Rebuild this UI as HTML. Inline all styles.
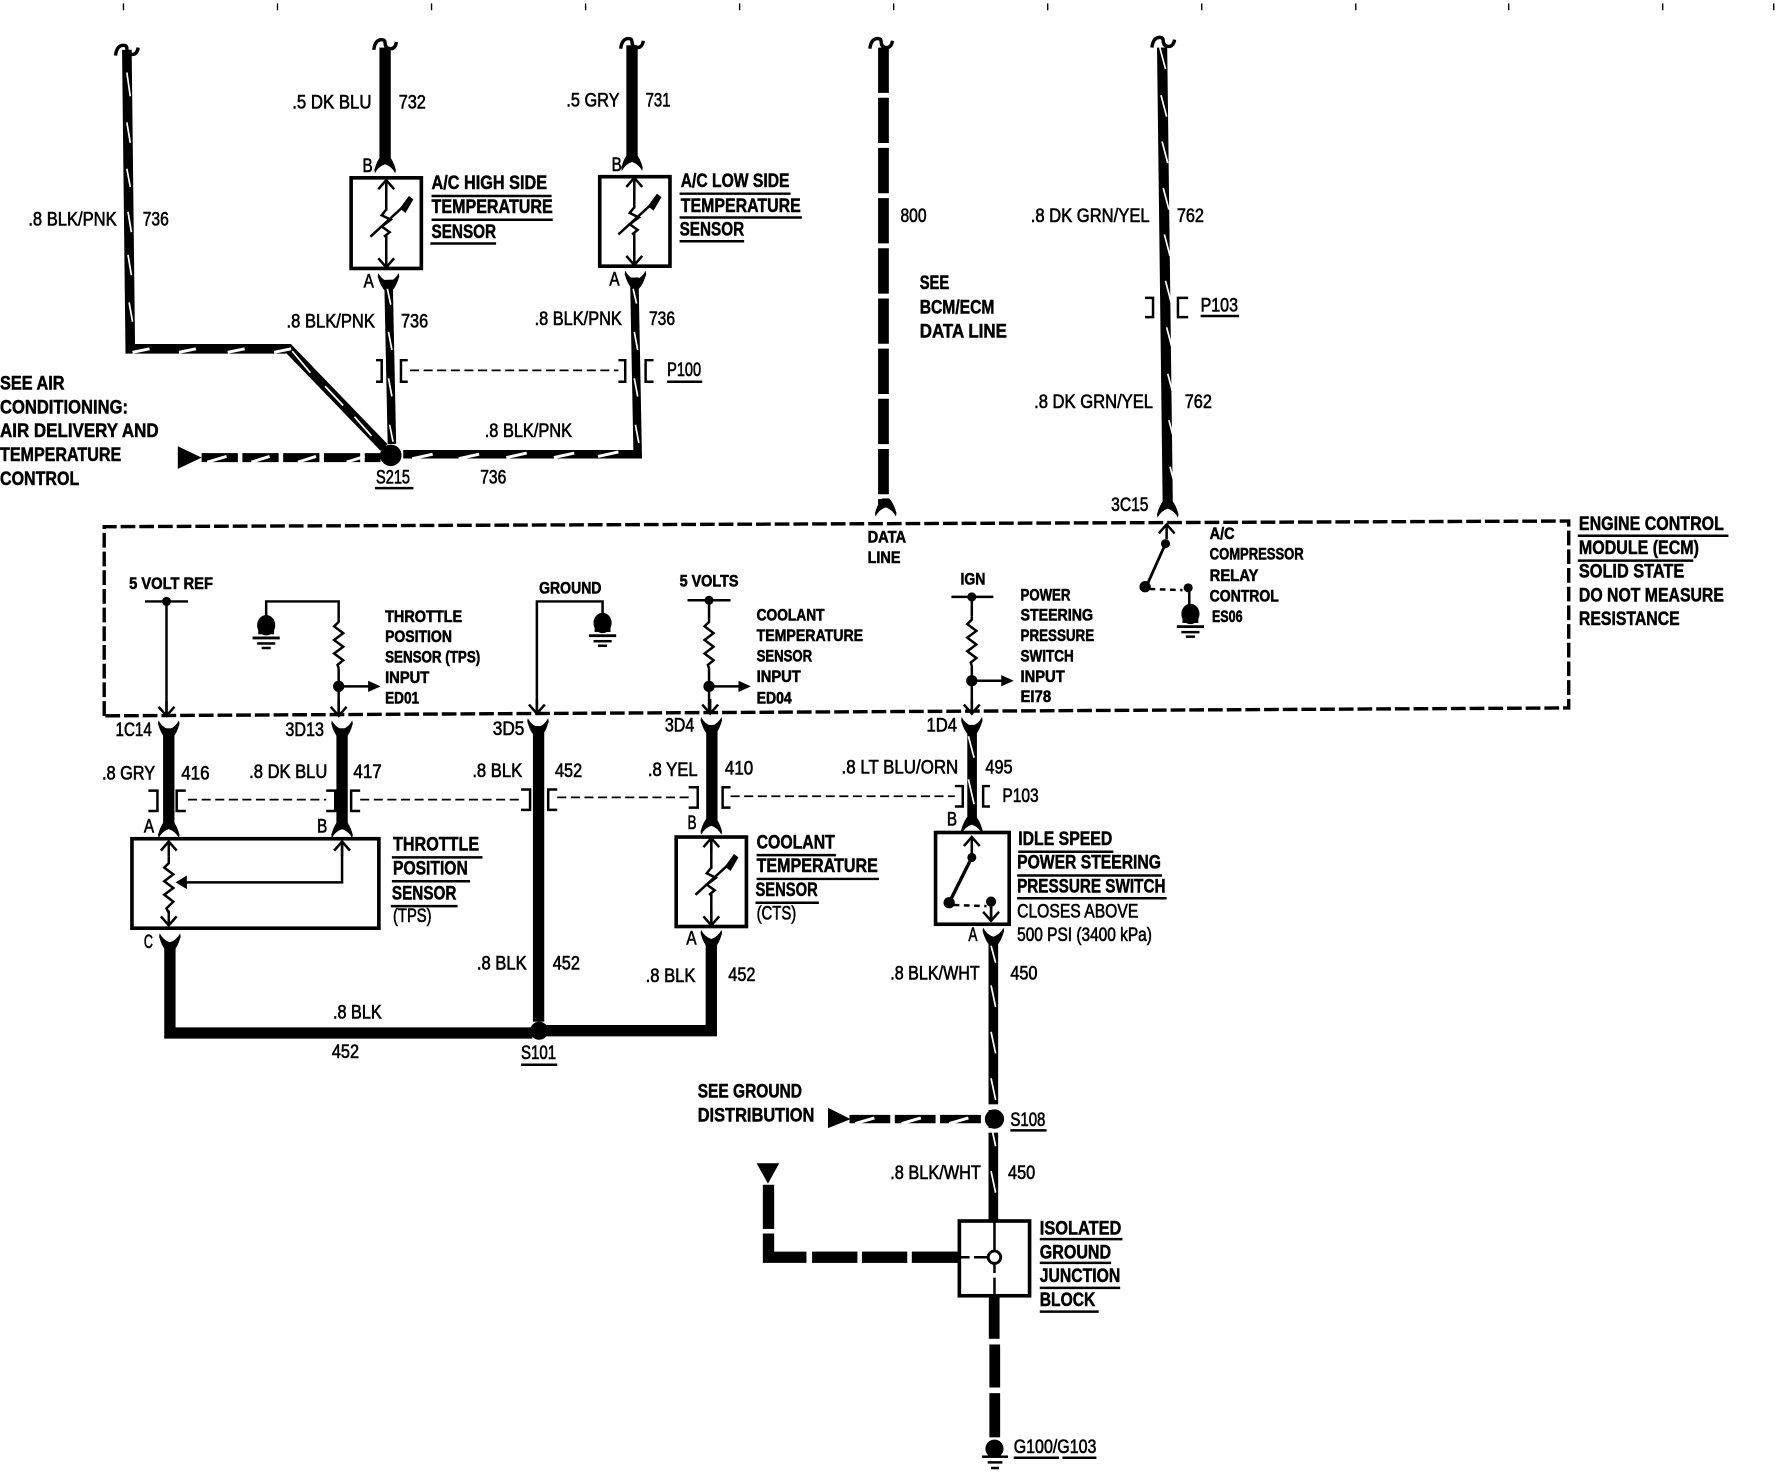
<!DOCTYPE html>
<html><head><meta charset="utf-8"><style>
html,body{margin:0;padding:0;background:#fff}
svg{display:block}
text{font-family:"Liberation Sans",sans-serif;fill:#000}
.n{font-size:17px;stroke:#000;stroke-width:.55}
.b{font-size:17px;font-weight:bold;stroke:#000;stroke-width:.45}
.s{font-size:14.5px;font-weight:bold;stroke:#000;stroke-width:.5}
.w{fill:none;stroke:#000;stroke-linecap:butt;stroke-linejoin:miter}
.sl{fill:none;stroke:#fff;stroke-width:1.5}
.sl2{fill:none;stroke:#fff;stroke-width:2.6}
.t{fill:none;stroke:#000;stroke-width:2.2}
.u{stroke:#000;stroke-width:2.2}
.d{fill:none;stroke:#000;stroke-width:1.6;stroke-dasharray:8 4}
.bx{fill:#fff;stroke:#000;stroke-width:3.2}
</style></head><body>
<svg xmlns="http://www.w3.org/2000/svg" width="1776" height="1472" viewBox="0 0 1568 1299.6">
<defs>
<path id="curl" fill="none" stroke="#000" stroke-width="3" d="M-10 9Q-9 0-3 0Q0 0 0 3Q0 8 5 8Q9 8 10 2"/>
<path id="fu" d="M-9 -7Q-6 -1 0 1Q6 -1 9 -7L9.500 -4Q7 5 3 9L-3 9Q-7 5 -9.500 -4Z" fill="#000"/>
<path id="fd" d="M-9 7Q-6 1 0 -1Q6 1 9 7L9.500 4Q7 -5 3 -9L-3 -9Q-7 -5 -9.500 4Z" fill="#000"/>
<path id="cu" class="t" d="M-7 7L0 -1L7 7M0 -1V12"/>
<path id="cd" class="t" d="M-7 -7L0 1L7 -7M0 1V-12"/>
<path id="res" class="t" d="M0 0V3L-4 7L4 13L-4 19L4 25L-4 31L4 37L-1 41L0 44"/>
<g id="gnd"><ellipse cx="0" cy="0" rx="8" ry="9" fill="#000"/><rect x="-7" y="2" width="14" height="6" fill="#000"/><rect x="-12" y="10" width="24" height="2.500" fill="#000"/><rect x="-8" y="15" width="16" height="2.200" fill="#000"/><rect x="-4" y="19" width="8" height="2.200" fill="#000"/></g>
<g id="arr"><path class="t" d="M0 0H28"/><path d="M26 -5L37 0L26 5Z" fill="#000"/></g>
<g id="th"><path class="t" d="M0 -38V-11M0 11V37"/><use href="#cu" x="0" y="-37"/><use href="#cd" x="0" y="38"/>
<path class="t" d="M0 -12L-4 -7L4 -3L-4 3L3 8L-2 12"/><path class="t" d="M-14 12L22 -21"/><path d="M12 -13L20 -24L24 -21L17 -9Z" fill="#000"/></g>
</defs>

<!-- ticks -->
<path stroke="#000" stroke-width="1.200" d="M109 3V9M245 3V9M381 3V9M517 3V9M653 3V9M789 3V9M925 3V9M1061 3V9M1197 3V9M1332 3V9M1468 3V9M1566 3V9"/>

<!-- top wires -->
<use href="#curl" x="112" y="40"/>
<path class="w" stroke-width="8.500" d="M112 44L115 308H255L339 395"/>
<path class="sl" d="M112 64l3 21M112 108l3 18M112 149l3 16M113 187l3 18M113 225l3 18M114 267l3 17M258 310l16 19M287 341l16 17M313 368l15 17"/>
<path class="sl2" d="M117 311l15 -3M158 311l15 -3M201 311l15 -3M242 311l15 -3"/>

<use href="#curl" x="340" y="35"/>
<rect x="335" y="42" width="10" height="102" fill="#000"/>
<use href="#fd" x="340" y="146"/>
<use href="#curl" x="558" y="34"/>
<rect x="553" y="40" width="10" height="102" fill="#000"/>
<use href="#fd" x="558" y="144"/>

<use href="#curl" x="778" y="34"/>
<path class="w" stroke-width="9.500" stroke-dasharray="40 4.300" d="M780 42V445"/>
<use href="#fd" x="782" y="449"/>
<use href="#curl" x="1027" y="33"/>
<path class="w" stroke-width="9" d="M1026 42L1031 446"/>
<path class="sl" d="M1024 42l5 19m-4 23l5 19m-4 22l5 19m-4 22l5 19m-4 22l5 19m-4 22l5 19m-4 22l5 19m-4 22l5 19m-4 22l5 19m-4 22l5 19"/>
<use href="#fd" x="1031" y="450"/>

<!-- A/C sensors -->
<rect class="bx" x="310" y="157" width="62" height="80"/>
<use href="#th" x="341" y="197"/>
<rect class="bx" x="529.500" y="156" width="62" height="79"/>
<use href="#th" x="560" y="195"/>
<use href="#fu" x="343" y="248"/>
<use href="#fu" x="561" y="246"/>
<path class="w" stroke-width="7.500" d="M343 247L346 392"/>
<path class="sl" d="M342 255l3 14M343 293l3 16M343 334l3 16M344 375l3 15"/>
<path class="w" stroke-width="7.500" d="M560 245L563 401H356"/>
<path class="sl" d="M559 255l3 13M560 293l3 16M560 334l3 16M561 375l3 16"/>
<path class="sl2" d="M364 405l18 -4M405 405l18 -4M447 404l18 -4M489 404l18 -4M528 403l18 -4"/>
<circle cx="345" cy="402" r="9.500" fill="#000"/>
<path d="M157 394L178 404L157 414Z" fill="#000"/>
<path class="w" stroke-width="8" stroke-dasharray="32 4" d="M178 404H336"/>
<path class="sl2" d="M183 408l17 -5M222 408l16 -5M263 408l16 -5M306 408l16 -5"/>

<!-- P100 brackets -->
<path class="t" d="M332 318h5v19h-5M360 318h-6v19h6M546 318h6v19h-6M577 318h-7v19h7"/>
<path class="d" d="M362 327H546"/>

<!-- P103 upper -->
<path class="t" d="M1011 263h7v17h-7M1049 263h-9v17h9"/>

<!-- ECM box -->
<path fill="none" stroke="#000" stroke-width="3" stroke-dasharray="13 3.500" d="M92 632V465L1385 460V625L92 632"/>

<!-- ECM interior -->
<path class="t" d="M128 531H166"/><circle cx="147" cy="531" r="4" fill="#000"/><path class="t" d="M147 531V630"/><use href="#cd" x="147" y="631"/>
<path class="t" d="M235 548V531H299V546"/><use href="#gnd" x="235" y="552"/>
<use href="#res" x="299" y="546"/><path class="t" d="M299 590V630"/><circle cx="299" cy="606" r="5" fill="#000"/><use href="#arr" x="299" y="606"/><use href="#cd" x="299" y="631"/>
<path class="t" d="M532 545V531H474V628"/><use href="#gnd" x="532" y="550"/><use href="#cd" x="474" y="629"/>
<path class="t" d="M607 530H645M626 530V546"/><circle cx="626" cy="530" r="4" fill="#000"/>
<use href="#res" x="626" y="546"/><path class="t" d="M626 590V628"/><circle cx="626" cy="606" r="5" fill="#000"/><use href="#arr" x="626" y="606"/><use href="#cd" x="627" y="629"/>
<path class="t" d="M840 527H877M858 527V544"/><circle cx="858" cy="527" r="4" fill="#000"/>
<use href="#res" x="858" y="544"/><path class="t" d="M858 588V628"/><circle cx="858" cy="601" r="5" fill="#000"/><use href="#arr" x="858" y="601"/><use href="#cd" x="858" y="629"/>
<use href="#cu" x="1030" y="464"/><circle cx="1029" cy="480" r="4" fill="#000"/><path stroke="#000" stroke-width="2.500" d="M1029 480L1012 518"/><circle cx="1011" cy="518" r="5" fill="#000"/>
<path class="t" stroke-dasharray="5 4" d="M1015 520L1044 521"/><circle cx="1049" cy="519" r="4" fill="#000"/><path class="t" d="M1050 519V535"/><use href="#gnd" x="1051" y="542"/>

<!-- lower wires -->
<use href="#fu" x="149" y="643"/><use href="#fu" x="302" y="643"/><use href="#fu" x="475" y="641"/><use href="#fu" x="628" y="640"/><use href="#fu" x="858" y="640"/>
<rect x="144" y="643" width="10" height="86" fill="#000"/>
<rect x="297" y="643" width="10" height="86" fill="#000"/>
<rect x="470.500" y="641" width="10" height="261" fill="#000"/>
<rect x="623.500" y="640" width="10" height="86" fill="#000"/>
<rect x="854" y="640" width="8.500" height="88" fill="#000"/>
<path class="sl" d="M855 650l5 19M855 688l5 22"/>
<use href="#fd" x="149" y="733"/><use href="#fd" x="302" y="733"/><use href="#fd" x="628" y="730"/><use href="#fd" x="858" y="729"/>

<!-- brackets row -->
<path class="t" d="M131 698h8v18h-8M164 698h-8v18h8M288 698h8v18h-8M318 698h-8v18h8M460 697h8v18h-8M492 697h-8v18h8M608 695h8v18h-8M645 695h-7v18h7M843 694h7v18h-7M874 694h-6v18h6"/>
<path class="d" d="M166 706H288M318 706H460M492 704H608M645 703H843"/>

<!-- TPS -->
<rect class="bx" x="116.500" y="740.500" width="218" height="79"/>
<use href="#cu" x="149" y="744"/><use href="#cd" x="149" y="816"/>
<path class="t" d="M149 756V762L145 766L153 772L145 778L153 784L145 790L153 796L147 802L149 806"/>
<path class="t" d="M162 779H302V745"/><path d="M155 779L165 773V785Z" fill="#000"/><use href="#cu" x="302" y="744"/>
<use href="#fu" x="150" y="831"/>
<path class="w" stroke-width="10" d="M150 832V912H470M481 910H628V830"/>
<circle cx="476" cy="910" r="8" fill="#000"/>

<!-- CTS -->
<rect class="bx" x="597" y="739" width="62" height="79"/>
<use href="#th" x="628" y="778"/>
<use href="#fu" x="628" y="828"/>

<!-- switch -->
<rect class="bx" x="826" y="735" width="65" height="81"/>
<use href="#cu" x="858" y="740"/><path class="t" d="M858 745V757"/><circle cx="858" cy="757" r="4" fill="#000"/><path stroke="#000" stroke-width="3" d="M858 757L838 797"/><circle cx="838" cy="797" r="5" fill="#000"/>
<path class="t" stroke-dasharray="5 4" d="M842 799L871 800"/><circle cx="875" cy="796" r="4.500" fill="#000"/><path class="t" d="M875 796V812"/><use href="#cd" x="875" y="812"/>
<use href="#fu" x="877" y="826"/>
<path class="w" stroke-width="8.500" d="M877 830V1078"/>
<path class="sl" d="M875 835l4 15m-4 20l4 19m-4 22l4 19m-4 22l4 19m-4 22l4 19m-4 22l4 19"/>
<rect x="868" y="975" width="18" height="5" fill="#fff"/><rect x="868" y="996" width="18" height="4" fill="#fff"/>
<circle cx="878" cy="988" r="8.500" fill="#000"/>
<path d="M731 978L751 988L731 996Z" fill="#000"/>
<path class="w" stroke-width="7.500" stroke-dasharray="36 4" d="M750 988H868"/>
<path class="sl2" d="M755 992l17 -5M796 992l17 -5M838 992l17 -5"/>

<!-- isolated ground -->
<rect class="bx" x="847" y="1078" width="62" height="66"/>
<path class="t" d="M878 1078V1104M878 1116V1124M878 1128V1143M846 1110H856M860 1110H872"/>
<circle cx="878" cy="1110" r="5.500" fill="#fff" stroke="#000" stroke-width="2.500"/>
<path d="M668 1027H688L678 1045Z" fill="#000"/>
<rect x="673.500" y="1046" width="10" height="39" fill="#000"/>
<path class="w" stroke-width="10" d="M678.500 1089V1110H712"/>
<rect x="717" y="1105" width="40" height="10" fill="#000"/><rect x="761" y="1105" width="40" height="10" fill="#000"/><rect x="805" y="1105" width="41" height="10" fill="#000"/>
<rect x="873" y="1144" width="9.500" height="38" fill="#000"/><rect x="873.500" y="1187" width="9.500" height="38" fill="#000"/><rect x="873.500" y="1230" width="9.500" height="39" fill="#000"/>
<circle cx="878" cy="1279" r="8" fill="#000"/>
<rect x="867" y="1285" width="23" height="2.200" fill="#000"/><rect x="872" y="1290" width="13" height="2.200" fill="#000"/><rect x="875" y="1295" width="7" height="2.200" fill="#000"/>

<!-- underlines -->
<path class="u" d="M381 173H487M381 194H488M380 215H438M600 171H698M600 192H708M600 213H657M589 337H620M331 431H365M1060 279H1094M1393 473H1526M1393 495H1495M346 757H426M346 778H415M345 800H404M668 755H738M668 776H776M667 797H723M899 752H983M898 773H1026M898 793H1030M892 998H924M918 1094H991M918 1115H981M918 1137H989M918 1158H970M895 1287H935M938 1287H968M460 940H492"/>

<!-- wire labels -->
<g class="n">
<text x="258" y="96" textLength="70" lengthAdjust="spacingAndGlyphs">.5 DK BLU</text>
<text x="352" y="96" textLength="24" lengthAdjust="spacingAndGlyphs">732</text>
<text x="500" y="94" textLength="47" lengthAdjust="spacingAndGlyphs">.5 GRY</text>
<text x="570" y="94" textLength="22" lengthAdjust="spacingAndGlyphs">731</text>
<text x="25" y="199" textLength="78" lengthAdjust="spacingAndGlyphs">.8 BLK/PNK</text>
<text x="126" y="199" textLength="23" lengthAdjust="spacingAndGlyphs">736</text>
<text x="320" y="152" textLength="9" lengthAdjust="spacingAndGlyphs">B</text>
<text x="321" y="254" textLength="9" lengthAdjust="spacingAndGlyphs">A</text>
<text x="540" y="151" textLength="9" lengthAdjust="spacingAndGlyphs">B</text>
<text x="538" y="252" textLength="9" lengthAdjust="spacingAndGlyphs">A</text>
<text x="253" y="289" textLength="78" lengthAdjust="spacingAndGlyphs">.8 BLK/PNK</text>
<text x="354" y="289" textLength="24" lengthAdjust="spacingAndGlyphs">736</text>
<text x="472" y="287" textLength="77" lengthAdjust="spacingAndGlyphs">.8 BLK/PNK</text>
<text x="573" y="287" textLength="23" lengthAdjust="spacingAndGlyphs">736</text>
<text x="589" y="332" textLength="30" lengthAdjust="spacingAndGlyphs">P100</text>
<text x="428" y="386" textLength="77" lengthAdjust="spacingAndGlyphs">.8 BLK/PNK</text>
<text x="424" y="427" textLength="23" lengthAdjust="spacingAndGlyphs">736</text>
<text x="332" y="427" textLength="30" lengthAdjust="spacingAndGlyphs">S215</text>
<text x="795" y="196" textLength="23" lengthAdjust="spacingAndGlyphs">800</text>
<text x="910" y="196" textLength="105" lengthAdjust="spacingAndGlyphs">.8 DK GRN/YEL</text>
<text x="1039" y="196" textLength="24" lengthAdjust="spacingAndGlyphs">762</text>
<text x="913" y="360" textLength="105" lengthAdjust="spacingAndGlyphs">.8 DK GRN/YEL</text>
<text x="1046" y="360" textLength="24" lengthAdjust="spacingAndGlyphs">762</text>
<text x="1060" y="275" textLength="33" lengthAdjust="spacingAndGlyphs">P103</text>
<text x="981" y="451" textLength="33" lengthAdjust="spacingAndGlyphs">3C15</text>
<text x="102" y="650" textLength="32" lengthAdjust="spacingAndGlyphs">1C14</text>
<text x="252" y="650" textLength="34" lengthAdjust="spacingAndGlyphs">3D13</text>
<text x="435" y="649" textLength="28" lengthAdjust="spacingAndGlyphs">3D5</text>
<text x="587" y="646" textLength="26" lengthAdjust="spacingAndGlyphs">3D4</text>
<text x="818" y="646" textLength="27" lengthAdjust="spacingAndGlyphs">1D4</text>
<text x="90" y="688" textLength="47" lengthAdjust="spacingAndGlyphs">.8 GRY</text>
<text x="160" y="688" textLength="25" lengthAdjust="spacingAndGlyphs">416</text>
<text x="220" y="687" textLength="69" lengthAdjust="spacingAndGlyphs">.8 DK BLU</text>
<text x="312" y="687" textLength="25" lengthAdjust="spacingAndGlyphs">417</text>
<text x="417" y="686" textLength="44" lengthAdjust="spacingAndGlyphs">.8 BLK</text>
<text x="490" y="686" textLength="24" lengthAdjust="spacingAndGlyphs">452</text>
<text x="572" y="685" textLength="44" lengthAdjust="spacingAndGlyphs">.8 YEL</text>
<text x="640" y="684" textLength="25" lengthAdjust="spacingAndGlyphs">410</text>
<text x="743" y="683" textLength="103" lengthAdjust="spacingAndGlyphs">.8 LT BLU/ORN</text>
<text x="870" y="683" textLength="24" lengthAdjust="spacingAndGlyphs">495</text>
<text x="885" y="708" textLength="32" lengthAdjust="spacingAndGlyphs">P103</text>
<text x="127" y="735" textLength="9" lengthAdjust="spacingAndGlyphs">A</text>
<text x="280" y="735" textLength="9" lengthAdjust="spacingAndGlyphs">B</text>
<text x="607" y="732" textLength="8" lengthAdjust="spacingAndGlyphs">B</text>
<text x="836" y="729" textLength="9" lengthAdjust="spacingAndGlyphs">B</text>
<text x="127" y="837" textLength="8" lengthAdjust="spacingAndGlyphs">C</text>
<text x="606" y="834" textLength="9" lengthAdjust="spacingAndGlyphs">A</text>
<text x="855" y="831" textLength="8" lengthAdjust="spacingAndGlyphs">A</text>
<text x="347" y="814" textLength="34" lengthAdjust="spacingAndGlyphs">(TPS)</text>
<text x="668" y="812" textLength="35" lengthAdjust="spacingAndGlyphs">(CTS)</text>
<text x="421" y="856" textLength="44" lengthAdjust="spacingAndGlyphs">.8 BLK</text>
<text x="488" y="856" textLength="24" lengthAdjust="spacingAndGlyphs">452</text>
<text x="570" y="867" textLength="44" lengthAdjust="spacingAndGlyphs">.8 BLK</text>
<text x="643" y="866" textLength="24" lengthAdjust="spacingAndGlyphs">452</text>
<text x="294" y="899" textLength="43" lengthAdjust="spacingAndGlyphs">.8 BLK</text>
<text x="293" y="934" textLength="24" lengthAdjust="spacingAndGlyphs">452</text>
<text x="460" y="935" textLength="31" lengthAdjust="spacingAndGlyphs">S101</text>
<text x="786" y="865" textLength="79" lengthAdjust="spacingAndGlyphs">.8 BLK/WHT</text>
<text x="892" y="865" textLength="24" lengthAdjust="spacingAndGlyphs">450</text>
<text x="892" y="994" textLength="31" lengthAdjust="spacingAndGlyphs">S108</text>
<text x="786" y="1041" textLength="80" lengthAdjust="spacingAndGlyphs">.8 BLK/WHT</text>
<text x="890" y="1041" textLength="24" lengthAdjust="spacingAndGlyphs">450</text>
<text x="895" y="1283" textLength="73" lengthAdjust="spacingAndGlyphs">G100/G103</text>
<text x="898" y="810" textLength="107" lengthAdjust="spacingAndGlyphs">CLOSES ABOVE</text>
<text x="898" y="831" textLength="119" lengthAdjust="spacingAndGlyphs">500 PSI (3400 kPa)</text>
</g>

<!-- bold labels -->
<g class="b">
<text x="381" y="167" textLength="102" lengthAdjust="spacingAndGlyphs">A/C HIGH SIDE</text>
<text x="381" y="188" textLength="107" lengthAdjust="spacingAndGlyphs">TEMPERATURE</text>
<text x="381" y="210" textLength="57" lengthAdjust="spacingAndGlyphs">SENSOR</text>
<text x="601" y="165" textLength="96" lengthAdjust="spacingAndGlyphs">A/C LOW SIDE</text>
<text x="601" y="187" textLength="106" lengthAdjust="spacingAndGlyphs">TEMPERATURE</text>
<text x="600" y="208" textLength="57" lengthAdjust="spacingAndGlyphs">SENSOR</text>
<text x="0" y="344" textLength="57" lengthAdjust="spacingAndGlyphs">SEE AIR</text>
<text x="0" y="365" textLength="113" lengthAdjust="spacingAndGlyphs">CONDITIONING:</text>
<text x="0" y="386" textLength="140" lengthAdjust="spacingAndGlyphs">AIR DELIVERY AND</text>
<text x="0" y="407" textLength="107" lengthAdjust="spacingAndGlyphs">TEMPERATURE</text>
<text x="0" y="428" textLength="70" lengthAdjust="spacingAndGlyphs">CONTROL</text>
<text x="812" y="255" textLength="26" lengthAdjust="spacingAndGlyphs">SEE</text>
<text x="812" y="277" textLength="66" lengthAdjust="spacingAndGlyphs">BCM/ECM</text>
<text x="812" y="298" textLength="77" lengthAdjust="spacingAndGlyphs">DATA LINE</text>
<text x="1394" y="468" textLength="128" lengthAdjust="spacingAndGlyphs">ENGINE CONTROL</text>
<text x="1394" y="489" textLength="106" lengthAdjust="spacingAndGlyphs">MODULE (ECM)</text>
<text x="1394" y="510" textLength="93" lengthAdjust="spacingAndGlyphs">SOLID STATE</text>
<text x="1394" y="531" textLength="128" lengthAdjust="spacingAndGlyphs">DO NOT MEASURE</text>
<text x="1394" y="552" textLength="89" lengthAdjust="spacingAndGlyphs">RESISTANCE</text>
<text x="347" y="751" textLength="76" lengthAdjust="spacingAndGlyphs">THROTTLE</text>
<text x="347" y="772" textLength="66" lengthAdjust="spacingAndGlyphs">POSITION</text>
<text x="346" y="794" textLength="57" lengthAdjust="spacingAndGlyphs">SENSOR</text>
<text x="668" y="749" textLength="69" lengthAdjust="spacingAndGlyphs">COOLANT</text>
<text x="668" y="770" textLength="107" lengthAdjust="spacingAndGlyphs">TEMPERATURE</text>
<text x="667" y="791" textLength="55" lengthAdjust="spacingAndGlyphs">SENSOR</text>
<text x="899" y="746" textLength="83" lengthAdjust="spacingAndGlyphs">IDLE SPEED</text>
<text x="898" y="767" textLength="127" lengthAdjust="spacingAndGlyphs">POWER STEERING</text>
<text x="898" y="788" textLength="131" lengthAdjust="spacingAndGlyphs">PRESSURE SWITCH</text>
<text x="616" y="969" textLength="92" lengthAdjust="spacingAndGlyphs">SEE GROUND</text>
<text x="616" y="990" textLength="103" lengthAdjust="spacingAndGlyphs">DISTRIBUTION</text>
<text x="918" y="1090" textLength="72" lengthAdjust="spacingAndGlyphs">ISOLATED</text>
<text x="918" y="1111" textLength="63" lengthAdjust="spacingAndGlyphs">GROUND</text>
<text x="918" y="1132" textLength="71" lengthAdjust="spacingAndGlyphs">JUNCTION</text>
<text x="918" y="1153" textLength="49" lengthAdjust="spacingAndGlyphs">BLOCK</text>
</g>

<!-- small ECM labels -->
<g class="s">
<text x="766" y="479" textLength="34" lengthAdjust="spacingAndGlyphs">DATA</text>
<text x="766" y="497" textLength="29" lengthAdjust="spacingAndGlyphs">LINE</text>
<text x="114" y="520" textLength="74" lengthAdjust="spacingAndGlyphs">5 VOLT REF</text>
<text x="340" y="549" textLength="68" lengthAdjust="spacingAndGlyphs">THROTTLE</text>
<text x="340" y="567" textLength="59" lengthAdjust="spacingAndGlyphs">POSITION</text>
<text x="340" y="585" textLength="84" lengthAdjust="spacingAndGlyphs">SENSOR (TPS)</text>
<text x="340" y="603" textLength="39" lengthAdjust="spacingAndGlyphs">INPUT</text>
<text x="340" y="621" textLength="30" lengthAdjust="spacingAndGlyphs">ED01</text>
<text x="476" y="524" textLength="55" lengthAdjust="spacingAndGlyphs">GROUND</text>
<text x="600" y="518" textLength="52" lengthAdjust="spacingAndGlyphs">5 VOLTS</text>
<text x="668" y="548" textLength="60" lengthAdjust="spacingAndGlyphs">COOLANT</text>
<text x="668" y="566" textLength="94" lengthAdjust="spacingAndGlyphs">TEMPERATURE</text>
<text x="668" y="584" textLength="49" lengthAdjust="spacingAndGlyphs">SENSOR</text>
<text x="668" y="602" textLength="39" lengthAdjust="spacingAndGlyphs">INPUT</text>
<text x="668" y="621" textLength="31" lengthAdjust="spacingAndGlyphs">ED04</text>
<text x="848" y="516" textLength="22" lengthAdjust="spacingAndGlyphs">IGN</text>
<text x="901" y="530" textLength="44" lengthAdjust="spacingAndGlyphs">POWER</text>
<text x="901" y="548" textLength="64" lengthAdjust="spacingAndGlyphs">STEERING</text>
<text x="901" y="566" textLength="65" lengthAdjust="spacingAndGlyphs">PRESSURE</text>
<text x="901" y="584" textLength="47" lengthAdjust="spacingAndGlyphs">SWITCH</text>
<text x="901" y="602" textLength="39" lengthAdjust="spacingAndGlyphs">INPUT</text>
<text x="901" y="620" textLength="27" lengthAdjust="spacingAndGlyphs">EI78</text>
<text x="1068" y="476" textLength="22" lengthAdjust="spacingAndGlyphs">A/C</text>
<text x="1068" y="494" textLength="83" lengthAdjust="spacingAndGlyphs">COMPRESSOR</text>
<text x="1068" y="513" textLength="43" lengthAdjust="spacingAndGlyphs">RELAY</text>
<text x="1068" y="531" textLength="61" lengthAdjust="spacingAndGlyphs">CONTROL</text>
<text x="1070" y="549" textLength="27" lengthAdjust="spacingAndGlyphs">ES06</text>
</g>
</svg>
</body></html>
